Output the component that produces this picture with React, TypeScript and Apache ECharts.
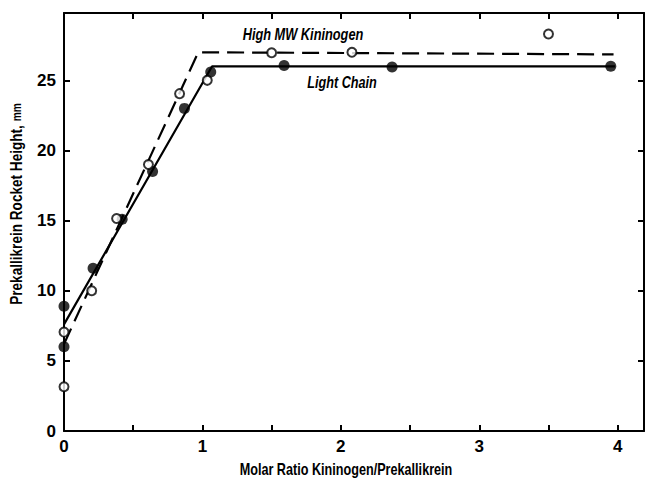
import React, { useEffect, useRef } from "react";
import * as echarts from "echarts";

const lightChainPoints: [number, number][] = [
  [0, 8.9], [0, 6.0], [0.21, 11.6], [0.42, 15.1], [0.64, 18.5],
  [0.87, 23.0], [1.06, 25.6], [1.59, 26.05], [2.37, 25.95], [3.95, 26.0],
];
const highMWPoints: [number, number][] = [
  [0, 3.15], [0, 7.05], [0.2, 10.0], [0.38, 15.15], [0.61, 19.0],
  [0.835, 24.05], [1.035, 25.0], [1.5, 26.97], [2.08, 27.0], [3.5, 28.3],
];
const lightChainFit: [number, number][] = [[0, 7.6], [1.07, 26.0], [3.98, 26.0]];
const highMWFit: [number, number][] = [[0, 6.2], [0.97, 27.0], [3.97, 26.85]];

const xTickLabels = ["0", "1", "2", "3", "4"];
const yTickLabels = ["0", "5", "10", "15", "20", "25"];

const FONT = "'Liberation Sans Narrow', 'Arial Narrow', 'Liberation Sans', sans-serif";

export default function App() {
  const ref = useRef<HTMLDivElement>(null);
  useEffect(() => {
    if (!ref.current) return;
    const chart = echarts.init(ref.current, undefined, { renderer: "svg" });
    const axisLine = { show: true, onZero: false, lineStyle: { color: "#000", width: 2 } };
    const tick = { show: true, inside: true, length: 6, lineStyle: { color: "#000", width: 2 } };
    const labelStyle = { color: "#000", fontFamily: FONT, fontWeight: "bold" as const, fontSize: 17 };
    chart.setOption({
      animation: false,
      backgroundColor: "#fff",
      grid: { left: 64, top: 13, width: 582, height: 418, containLabel: false },
      xAxis: [
        {
          type: "value", min: 0, max: 4.19, interval: 0.5, position: "bottom",
          axisLine, axisTick: tick, splitLine: { show: false },
          axisLabel: {
            ...labelStyle, margin: 7,
            formatter: (v: number) => (xTickLabels.includes(String(v)) ? String(v) : ""),
          },
        },
        {
          type: "value", min: 0, max: 4.19, interval: 0.5, position: "top",
          axisLine, axisTick: tick, splitLine: { show: false }, axisLabel: { show: false },
        },
      ],
      yAxis: [
        {
          type: "value", min: 0, max: 29.8, interval: 5, position: "left",
          axisLine, axisTick: tick, splitLine: { show: false },
          axisLabel: {
            ...labelStyle, margin: 8,
            formatter: (v: number) => (yTickLabels.includes(String(v)) ? String(v) : ""),
          },
        },
        {
          type: "value", min: 0, max: 29.8, interval: 5, position: "right",
          axisLine, axisTick: tick, splitLine: { show: false }, axisLabel: { show: false },
        },
      ],
      series: [
        {
          type: "line", data: highMWFit, symbol: "none", z: 2,
          lineStyle: { color: "#000", width: 2.2, type: [17, 8] },
        },
        {
          type: "line", data: lightChainFit, symbol: "none", z: 2,
          lineStyle: { color: "#000", width: 2.2 },
        },
        {
          type: "scatter", data: lightChainPoints, symbol: "circle", symbolSize: 11, z: 3,
          itemStyle: { color: "#000" },
        },
        {
          type: "scatter", data: highMWPoints, symbol: "circle", symbolSize: 9, z: 4,
          itemStyle: { color: "#fff", borderColor: "#000", borderWidth: 2 },
        },
      ],
      graphic: [
        {
          type: "text", x: 303, y: 34, scaleX: 0.8,
          style: {
            text: "High MW Kininogen", fill: "#000", fontFamily: FONT, fontWeight: "bold",
            fontStyle: "italic", fontSize: 16, align: "center", verticalAlign: "middle",
          },
        },
        {
          type: "text", x: 342, y: 82, scaleX: 0.79,
          style: {
            text: "Light Chain", fill: "#000", fontFamily: FONT, fontWeight: "bold",
            fontStyle: "italic", fontSize: 16, align: "center", verticalAlign: "middle",
          },
        },
        {
          type: "text", x: 17, y: 204, rotation: Math.PI / 2, scaleX: 0.85,
          style: {
            text: "Prekallikrein Rocket Height, {s|mm}", fill: "#000", fontFamily: FONT,
            fontWeight: "bold", fontSize: 16, align: "center", verticalAlign: "middle",
            rich: { s: { fontSize: 12, fontFamily: FONT, fontWeight: "bold", fill: "#000" } },
          },
        },
        {
          type: "text", x: 346, y: 469, scaleX: 0.79,
          style: {
            text: "Molar Ratio Kininogen/Prekallikrein", fill: "#000", fontFamily: FONT,
            fontWeight: "bold", fontSize: 16, align: "center", verticalAlign: "middle",
          },
        },
      ],
    });
    return () => chart.dispose();
  }, []);
  return <div ref={ref} style={{ width: 647, height: 478, position: "absolute", left: 0, top: 0 }} />;
}
